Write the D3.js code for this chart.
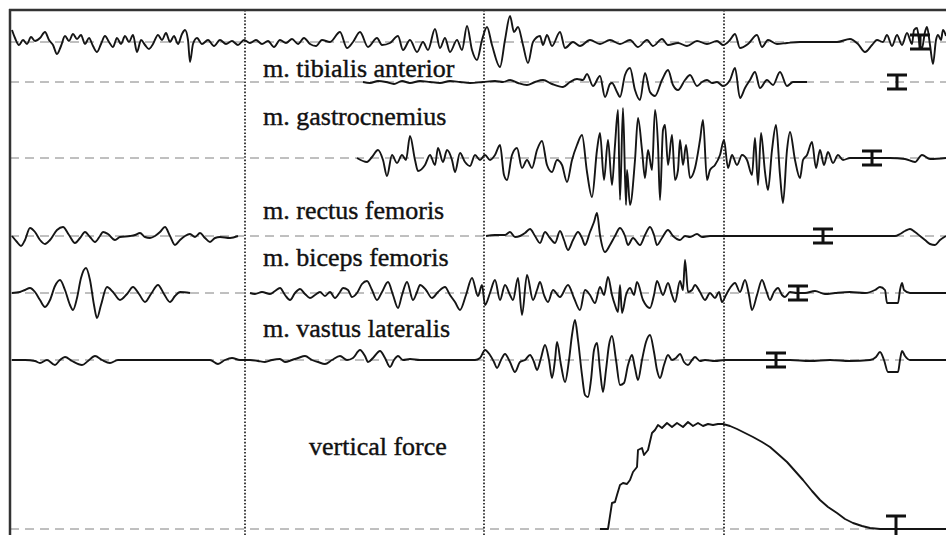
<!DOCTYPE html>
<html>
<head>
  <title>EMG traces and vertical force</title>
  <style>
    body { margin: 0; background: #fff; }
    svg { display: block; }
    .label { font-family: "Liberation Serif", "Times New Roman", Times, serif; }
  </style>
</head>
<body>
  <svg width="946" height="535"></svg>

  <script src="https://cdn.jsdelivr.net/npm/d3@7/dist/d3.min.js"></script>
  <script type="text/javascript">
    // sample index (1 kHz) vs amplitude (a.u.)
    var channels = ['top', 'tibialis', 'gastrocnemius', 'rectus', 'biceps', 'vastus', 'force']
    var labels = ['', 'm. tibialis anterior', 'm. gastrocnemius', 'm. rectus femoris',
      'm. biceps femoris', 'm. vastus lateralis', 'vertical force']
    var phaseMarks = [235, 474, 714]
    var markerAt = [910, 887, 862, 813, 788, 766, 886]

    var topTrace = [[2,12],[5,4],[9,-3],[13,2],[17,-2],[21,5],[25,1],[30,4],[35,10],[39,2],[43,-3],[47,-12],
      [51,-4],[55,6],[59,1],[63,8],[67,3],[71,7],[75,-2],[79,4],[83,-4],[87,-10],[91,-2],[95,6],[99,0],
      [103,-5],[107,4],[111,-2],[115,6],[119,0],[123,7],[127,-10],[131,2],[135,-3],[139,-7],[143,-2],
      [148,7],[152,2],[156,9],[160,0],[164,6],[168,-2],[172,8],[175,12],[178,2],[180,-20],[183,-2],
      [187,4],[192,-2],[198,2],[204,-4],[210,2],[216,-2],[222,1],[228,-3],[234,2],[240,-1],[246,2],
      [252,-2],[258,1],[264,-5],[270,2],[276,-1],[282,3],[288,-2],[294,4],[300,-2],[306,-4],[312,2],
      [320,0],[330,10],[337,-6],[343,0],[350,10],[358,-5],[367,4],[372,-3],[380,-1],[388,6],[393,-8],
      [400,2],[407,-10],[413,0],[418,-8],[425,13],[430,-6],[435,4],[440,-10],[447,2],[452,-8],[457,16],
      [462,-8],[467,-18],[472,2],[477,15],[482,-3],[490,-25],[495,2],[500,26],[504,10],[508,15],[513,-3],
      [518,-21],[523,0],[530,6],[533,-3],[537,7],[542,-4],[550,10],[555,-6],[563,0],[570,-4],[580,2],
      [590,-2],[600,2],[610,-2],[620,2],[628,-5],[637,2],[643,-4],[652,3],[658,-3],[668,-1],[677,-4],
      [687,1],[697,-2],[707,1],[713,-3],[720,2],[725,8],[730,-6],[738,-2],[747,7],[752,-5],[758,2],
      [767,-2],[777,-1],[790,0],[810,0],[827,0],[840,3],[848,-2],[855,-10],[862,-3],[867,2],[873,0],
      [877,7],[882,-4],[887,7],[892,-3],[897,9],[902,-2],[904,12],[907,14],[910,-4],[912,-6],[915,10],
      [917,15],[920,-3],[923,-22],[926,2],[928,7],[931,2],[933,12],[936,6]]

    var tibialis = [[353,0],[360,-1],[368,1],[376,0],[384,-2],[392,1],[400,-1],[410,1],[420,0],[430,-1],
      [440,1],[450,0],[460,-1],[473,0],[485,1],[493,0],[500,2],[508,-1],[517,-3],[525,0],[533,2],[542,-2],
      [553,-5],[560,0],[567,3],[573,2],[577,8],[583,-4],[590,6],[595,-15],[600,-2],[602,-1],[607,-10],
      [610,-15],[615,7],[620,14],[625,-8],[630,-18],[635,9],[640,-10],[645,-14],[652,2],[658,12],[663,-3],
      [668,-8],[675,2],[680,7],[687,-4],[692,0],[697,2],[702,-1],[707,0],[713,-4],[720,2],[725,14],
      [730,-16],[735,-6],[740,2],[745,10],[750,-6],[757,2],[763,-3],[770,10],[777,-4],[783,0],[797,0]]

    var gastrocnemius = [[347,0],[357,-4],[362,1],[368,8],[373,-2],[377,-18],[382,3],[387,-5],[392,3],
      [396,-2],[400,22],[405,-2],[408,-13],[415,-7],[420,3],[425,-7],[428,10],[433,-4],[437,8],[442,-2],
      [445,-14],[450,5],[455,-4],[460,-8],[465,3],[470,-2],[475,3],[480,-2],[485,3],[490,13],[494,-17],
      [497,-22],[502,3],[507,10],[512,-10],[517,-2],[522,-10],[527,8],[532,17],[537,-7],[542,-14],[547,-2],
      [552,-7],[557,-24],[562,-2],[567,13],[572,23],[577,-14],[582,-39],[587,8],[590,25],[594,-22],
      [598,18],[602,-27],[605,13],[608,48],[610,-42],[613,50],[616,-47],[617,-12],[620,-47],[625,-2],
      [628,40],[632,8],[635,-20],[638,8],[642,-12],[645,48],[648,13],[650,-42],[653,28],[655,33],[658,-7],
      [662,23],[665,-22],[668,-12],[670,18],[673,-7],[676,13],[680,-20],[685,-10],[690,18],[693,38],
      [697,-22],[700,-12],[705,-7],[710,3],[714,18],[718,-10],[722,3],[727,-7],[732,3],[737,-2],[742,-17],
      [745,20],[748,-27],[751,25],[755,-14],[758,-32],[762,8],[766,33],[770,-17],[773,-45],[777,8],
      [780,26],[785,-2],[790,-20],[793,-2],[797,3],[802,16],[806,-10],[810,8],[814,-7],[818,6],[823,-5],
      [828,3],[833,-2],[840,0],[880,0],[895,-1],[905,-4],[912,3],[920,-1],[936,0]]

    var rectus = [[2,0],[7,-6],[11,-10],[15,-4],[20,8],[25,4],[30,-4],[35,-8],[40,-4],[47,6],[53,9],[59,1],
      [65,-7],[70,-2],[75,4],[80,-1],[85,-6],[90,0],[93,4],[98,2],[105,-4],[110,-1],[120,0],[125,1],
      [130,3],[135,-1],[140,-2],[145,0],[150,4],[155,9],[160,0],[165,-9],[170,-4],[175,0],[180,2],
      [185,-1],[190,3],[195,-2],[200,-6],[205,-2],[210,-1],[220,-2],[228,0],[232,null],
      [474,null],[476,0],[485,1],[495,1],[500,4],[505,-1],[510,0],[515,3],[520,7],[525,0],[530,-7],
      [535,4],[540,-2],[545,-7],[550,5],[554,-4],[558,-14],[563,-4],[568,4],[572,-2],[575,-9],[580,4],
      [584,14],[587,23],[590,1],[595,-16],[600,-9],[605,0],[610,8],[615,0],[618,-9],[623,-2],[630,-9],
      [635,1],[640,9],[644,1],[647,-9],[652,-2],[658,6],[663,0],[670,-4],[675,0],[680,-1],[687,2],
      [692,-1],[700,0],[730,0],[770,0],[810,0],[850,0],[885,0],[890,2],[895,5],[900,7],[905,4],[910,0],
      [915,-4],[920,-8],[925,-9],[930,-4],[936,0]]

    var biceps = [[2,0],[10,1],[15,3],[20,5],[25,1],[30,-7],[35,-14],[40,-7],[45,7],[50,13],[55,3],
      [60,-12],[63,-17],[67,-5],[71,15],[76,25],[80,13],[84,-12],[87,-25],[91,-12],[97,6],[103,1],
      [110,-7],[117,-1],[123,6],[129,-1],[135,-9],[141,-1],[148,8],[154,-1],[160,-9],[165,-3],[170,1],
      [180,0],[188,null],[238,null],[240,0],[245,-1],[252,1],[260,-1],[265,2],[270,5],[275,-2],[280,-7],
      [285,0],[290,4],[295,-1],[300,-5],[305,-2],[310,1],[315,-3],[320,1],[325,-5],[330,1],[333,5],
      [338,3],[342,-4],[347,0],[352,9],[357,12],[362,3],[367,-7],[372,1],[378,11],[383,-2],[388,-15],
      [392,-2],[397,11],[403,-7],[407,1],[410,8],[416,3],[422,-5],[428,1],[435,6],[440,-2],[445,-9],
      [450,-17],[456,-2],[462,15],[468,-3],[472,8],[475,-12],[480,0],[485,13],[490,-7],[495,8],[500,-2],
      [503,-7],[508,15],[512,-22],[517,18],[523,-7],[527,3],[530,11],[534,-2],[538,-9],[543,3],[550,-4],
      [558,8],[564,-5],[570,-17],[575,3],[580,-2],[585,-10],[590,6],[594,-2],[598,16],[602,-2],[605,-12],
      [608,-19],[610,8],[612,-20],[616,-2],[620,5],[624,-2],[627,11],[633,-7],[640,-15],[644,-2],[647,12],
      [653,-2],[658,10],[662,-2],[665,-9],[670,12],[673,3],[675,33],[678,1],[682,3],[685,8],[690,1],
      [695,-7],[700,0],[705,-5],[709,1],[712,-9],[716,-2],[720,5],[725,10],[730,1],[735,13],[739,-2],
      [742,-17],[747,-2],[752,13],[756,3],[760,-7],[764,1],[768,5],[772,-2],[775,-4],[780,1],[787,0],
      [795,0],[805,2],[815,-1],[825,0],[840,1],[855,0],[865,3],[870,6],[875,3],[877,-10],[883,-10],
      [888,-10],[890,3],[892,10],[894,3],[900,0],[915,0],[936,0]]

    var vastus = [[2,0],[15,0],[25,-1],[30,-3],[37,0],[45,-5],[50,0],[55,3],[62,-1],[72,-5],[78,-1],
      [85,4],[92,0],[100,-3],[108,0],[120,0],[140,0],[160,0],[180,0],[200,0],[208,-4],[215,0],[222,2],
      [230,0],[240,0],[248,-1],[255,-2],[262,0],[270,1],[275,-2],[282,0],[288,2],[295,4],[302,0],[308,-2],
      [315,-4],[322,0],[330,4],[337,0],[343,2],[350,10],[355,4],[358,-2],[363,2],[370,9],[375,2],[380,-7],
      [384,0],[388,4],[393,0],[400,1],[410,0],[430,0],[450,0],[465,0],[470,2],[475,10],[480,5],[484,-2],
      [487,-8],[491,0],[495,6],[500,-2],[505,-12],[510,-2],[515,0],[520,5],[524,-2],[527,-10],[531,2],
      [535,15],[539,0],[542,-18],[545,0],[547,18],[551,-5],[555,-22],[559,0],[562,25],[565,40],[568,20],
      [572,-15],[575,-35],[578,-37],[581,-20],[584,10],[587,17],[590,-10],[593,-32],[596,-10],[599,15],
      [602,24],[606,0],[610,-25],[614,-23],[618,-5],[622,5],[625,-8],[628,-20],[632,0],[636,18],[640,25],
      [644,8],[647,-10],[650,-18],[654,-5],[658,5],[662,0],[666,2],[670,6],[674,-2],[678,-5],[682,0],
      [685,3],[690,-1],[695,0],[705,-1],[715,0],[730,0],[750,0],[780,0],[800,-1],[820,0],[840,-1],
      [860,0],[866,3],[870,8],[874,0],[878,-12],[883,-12],[888,-12],[890,0],[892,9],[895,4],[900,0],
      [915,0],[936,0]]

    var force = [[590,0],[598,0],[602,26],[605,27],[607,34],[610,44],[613,46],[617,45],[620,49],[623,57],
      [627,62],[628,79],[632,81],[634,74],[638,79],[642,96],[645,99],[648,104],[652,101],[657,106],
      [662,102],[667,106],[673,102],[678,107],[683,103],[688,106],[693,103],[698,105],[703,104],[708,105],
      [713,105],[720,103],[727,100],[735,96],[743,92],[752,87],[760,82],[768,75],[777,67],[785,58],
      [793,49],[802,38],[810,29],[818,22],[827,16],[835,10],[843,6],[852,3],[860,1],[870,0],[936,0]]

    var traces = [topTrace, tibialis, gastrocnemius, rectus, biceps, vastus, force]

    // layout
    var svg = d3.select('svg'),
      width = +svg.attr('width'),
      height = +svg.attr('height'),
      frameLeft = 10, frameTop = 10

    var baseline = d3.scaleOrdinal().domain(channels).range([42, 82, 158, 236, 293, 360, 529])
    var labelPos = {
      tibialis: [263, 77], gastrocnemius: [263, 125], rectus: [263, 219],
      biceps: [263, 266], vastus: [263, 337], force: [309, 455]
    }

    var x = d3.scaleLinear().domain([0, 936]).range([frameLeft, width])
    var yFor = function (ch) {
      var b = baseline(ch)
      return d3.scaleLinear().domain([-100, 100]).range([b + 100, b - 100])
    }

    // dashed zero lines
    svg.selectAll('.zero')
      .data(channels).enter()
      .append('line')
      .attr('class', 'zero')
      .attr('x1', x(0)).attr('x2', x(936))
      .attr('y1', d => baseline(d)).attr('y2', d => baseline(d))
      .attr('stroke', '#808080')
      .attr('stroke-width', 1)
      .attr('stroke-dasharray', '9,6')

    // phase lines
    svg.selectAll('.phase')
      .data(phaseMarks).enter()
      .append('line')
      .attr('class', 'phase')
      .attr('x1', d => x(d)).attr('x2', d => x(d))
      .attr('y1', frameTop).attr('y2', height)
      .attr('stroke', '#111')
      .attr('stroke-width', 1.6)
      .attr('stroke-dasharray', '1.6,1.8')

    // frame
    svg.append('line')
      .attr('x1', frameLeft - 1).attr('x2', width)
      .attr('y1', frameTop).attr('y2', frameTop)
      .attr('stroke', '#333').attr('stroke-width', 2.5)
    svg.append('line')
      .attr('x1', frameLeft).attr('x2', frameLeft)
      .attr('y1', frameTop - 1).attr('y2', height)
      .attr('stroke', '#333').attr('stroke-width', 2.5)

    // traces
    channels.forEach(function (ch, i) {
      var y = yFor(ch)
      var line = d3.line()
        .defined(d => d[1] != null)
        .x(d => x(d[0]))
        .y(d => y(d[1]))
        .curve(ch == 'force' ? d3.curveLinear : d3.curveMonotoneX)
      svg.append('path')
        .datum(traces[i])
        .attr('class', 'trace ' + ch)
        .attr('d', line)
        .attr('fill', 'none')
        .attr('stroke', '#151515')
        .attr('stroke-width', 1.9)
        .attr('stroke-linejoin', 'round')
    })

    // calibration bars
    channels.forEach(function (ch, i) {
      var cx = x(markerAt[i]), b = baseline(ch)
      var up = ch == 'force' ? 13 : 7, down = ch == 'force' ? 16 : 7
      var g = svg.append('g').attr('class', 'marker')
      g.append('line').attr('x1', cx).attr('x2', cx).attr('y1', b - up).attr('y2', b + down)
      g.append('line').attr('x1', cx - 10).attr('x2', cx + 10).attr('y1', b - up).attr('y2', b - up)
      g.append('line').attr('x1', cx - 10).attr('x2', cx + 10).attr('y1', b + down).attr('y2', b + down)
      g.selectAll('line').attr('stroke', '#111').attr('stroke-width', 3)
    })

    // labels
    svg.selectAll('.label')
      .data(channels.filter((c, i) => labels[i])).enter()
      .append('text')
      .attr('class', 'label')
      .attr('x', d => labelPos[d][0])
      .attr('y', d => labelPos[d][1])
      .attr('font-size', 26)
      .attr('fill', '#111')
      .attr('stroke', '#111')
      .attr('stroke-width', 0.4)
      .text(d => labels[channels.indexOf(d)])
  </script>
</body>
</html>
